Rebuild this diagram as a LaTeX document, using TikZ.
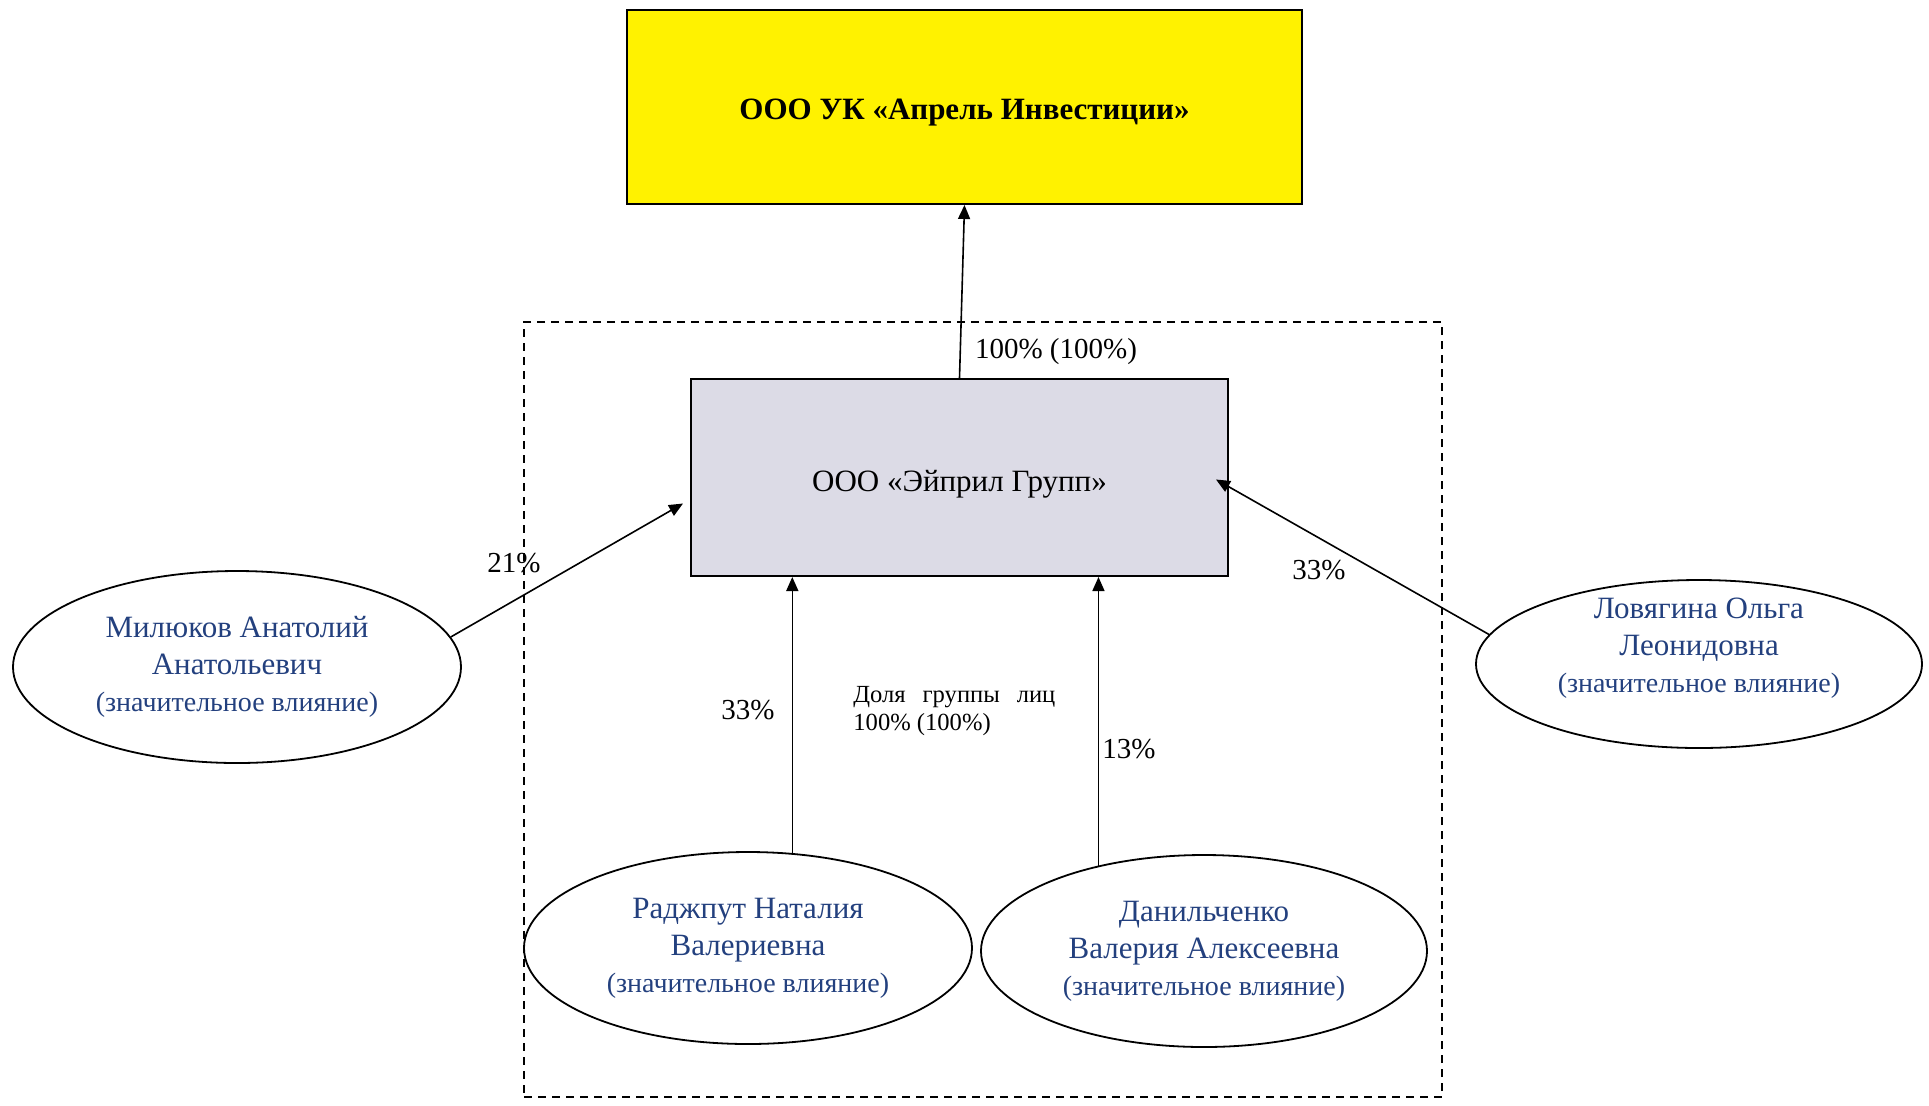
\documentclass[tikz,border=0pt]{standalone}
\usepackage{fontspec}
\setmainfont{Liberation Serif}
\usetikzlibrary{arrows.meta,shapes.geometric}
\definecolor{ylw}{HTML}{FFF200}
\definecolor{gbox}{HTML}{DCDBE6}
\definecolor{nblue}{HTML}{23407E}
\newcommand{\infl}{{\fontsize{14}{18.5}\selectfont(значительное влияние)}}
\begin{document}
\begin{tikzpicture}[x=0.5pt,y=-0.5pt,
  box/.style={draw=black,line width=1pt,inner sep=0pt,align=center},
  person/.style={ellipse,draw=black,line width=0.9pt,inner sep=0pt,align=center,text=nblue,font=\fontsize{15.5}{18.5}\selectfont},
  ptext/.style={inner sep=0pt,align=center,text=nblue,font=\fontsize{15.5}{18.5}\selectfont},
  arr/.style={line width=0.8pt,-{Triangle[length=7pt,width=6pt]}},
  pct/.style={font=\fontsize{14.5}{17}\selectfont,inner sep=0pt},
  grp/.style={draw=black,line width=0.8pt,dash pattern=on 4pt off 3pt,inner sep=0pt}]
\useasboundingbox (0,0) rectangle (1929,1105);
\node[grp,minimum width=459pt,minimum height=387.5pt] (group) at (983,709.5) {};
\node[box,fill=ylw,minimum width=337.5pt,minimum height=97pt] (uk) at (964.5,107) {};
\node[font=\bfseries\fontsize{15.5}{18}\selectfont,inner sep=0pt] (uktext) at (964.5,113) {ООО УК «Апрель Инвестиции»};
\node[box,fill=gbox,minimum width=268.5pt,minimum height=98.5pt] (eg) at (959.5,477.5) {};
\node[font=\fontsize{15.5}{18}\selectfont,inner sep=0pt] (egtext) at (959.5,484) {ООО «Эйприл Групп»};
\node[person,minimum width=224pt,minimum height=96pt] (mil) at (237,667) {Милюков Анатолий\\Анатольевич\\\infl};
\node[person,minimum width=223pt,minimum height=84pt] (lov) at (1699,664) {};
\node[ptext] (lovtext) at (1699,648) {Ловягина Ольга\\Леонидовна\\\infl};
\node[person,minimum width=224pt,minimum height=96pt] (rad) at (748,948) {Раджпут Наталия\\Валериевна\\\infl};
\node[person,minimum width=223pt,minimum height=96pt] (dan) at (1204,951) {Данильченко\\Валерия Алексеевна\\\infl};
\draw[arr] (eg.north) -- (uk.south);
\draw[arr] (mil.8) -- ([xshift=-3.5pt,yshift=-13pt]eg.west);
\draw[arr] (lov.172) -- ([xshift=-6.5pt,yshift=-1pt]eg.east);
\draw[arr] (rad.65) -- (rad.65 |- eg.south);
\draw[arr] (dan.141) -- (dan.141 |- eg.south);
\node[pct] (l100) at (1056,352) {100\% (100\%)};
\node[pct] (l21) at (514,563) {21\%};
\node[pct] (l33r) at (1319,570) {33\%};
\node[pct] (l33v) at (748,710) {33\%};
\node[pct] (l13) at (1129,749) {13\%};
\node[font=\fontsize{12.3}{14}\selectfont,anchor=west,align=left,inner sep=0pt] (dolya) at (853,711) {\makebox[101pt][s]{Доля группы лиц}\\100\% (100\%)};
\end{tikzpicture}
\end{document}
